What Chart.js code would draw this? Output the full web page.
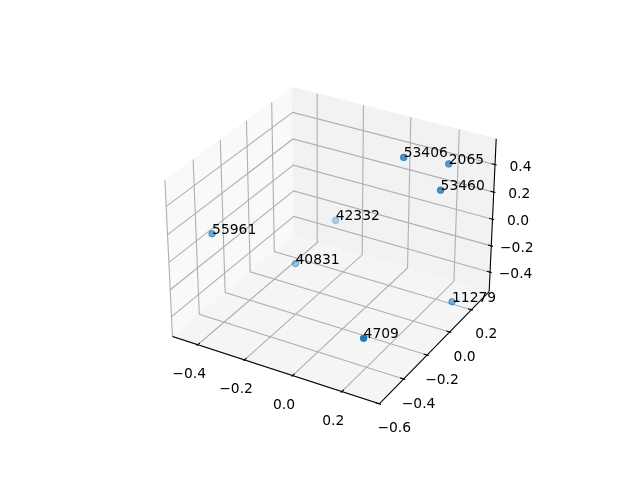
<!DOCTYPE html>
<html>
<head>
<meta charset="utf-8">
<style>
  html, body { margin: 0; padding: 0; background: #fff; }
  #wrap { width: 640px; height: 480px; }
</style>
<script src="https://cdn.jsdelivr.net/npm/chart.js@4"></script>
</head>
<body>
<div id="wrap"><canvas id="chart" width="640" height="480"></canvas></div>
<script>
const pointLabels = ['4709', '42332', '53406', '2065', '53460', '55961', '40831', '11279'];
const xValues = [0.271, -0.310, 0.109, 0.225, 0.260, -0.500, -0.323, 0.280];
const yValues = [-0.571, 0.351, 0.079, 0.225, 0.079, -0.299, 0.033, 0.173];
const zValues = [-0.147, -0.320, 0.546, 0.450, 0.384, -0.020, -0.415, -0.503];

const xTicks = [-0.4, -0.2, 0.0, 0.2];
const yTicks = [-0.6, -0.4, -0.2, 0.0, 0.2];
const zTicks = [-0.4, -0.2, 0.0, 0.2, 0.4];

const xLim = [-0.492, 0.332];
const yLim = [-0.58, 0.35];
const zLim = [-0.527, 0.562];

const GRID = '#b0b0b0';
const FONT = '13.89px "DejaVu Sans"';

// same camera as a default mplot3d axes: elev 30, azim -60, dist 10, box 4:4:3
const DIST = 10;
const el = 30 * Math.PI / 180;
const az = -60 * Math.PI / 180;
const aspectNorm = Math.sqrt(4 * 4 + 4 * 4 + 3 * 3);
const boxScale = 1.8294640721620434 / aspectNorm;
const box = [4 * boxScale, 4 * boxScale, 3 * boxScale * 1.01];
const w = [Math.cos(el) * Math.cos(az), Math.cos(el) * Math.sin(az), Math.sin(el)];
const eye = box.map((b, i) => b / 2 + DIST * w[i]);

function cross(a, b) {
    return [a[1] * b[2] - a[2] * b[1], a[2] * b[0] - a[0] * b[2], a[0] * b[1] - a[1] * b[0]];
}
function dot(a, b) {
    return a[0] * b[0] + a[1] * b[1] + a[2] * b[2];
}
const uRaw = cross([0, 0, 1], w);
const uLen = Math.sqrt(dot(uRaw, uRaw));
const u = uRaw.map(c => c / uLen);
const v = cross(w, u);

function toView(x, y, z) {
    const world = [
        (x - xLim[0]) / (xLim[1] - xLim[0]) * box[0],
        (y - yLim[0]) / (yLim[1] - yLim[0]) * box[1],
        (z - zLim[0]) / (zLim[1] - zLim[0]) * box[2]
    ];
    return world.map((c, i) => c - eye[i]);
}

// projected position in canvas pixels, used as values on the two hidden linear scales
function project(x, y, z) {
    const p = toView(x, y, z);
    const depth = -dot(w, p);
    const px = dot(u, p) / depth;
    const py = dot(v, p) / depth;
    const side = 1.012 * 369.6 / 0.185;
    return { x: 334 + px * side, y: 238 - py * side };
}

function depthOf(x, y, z) {
    return dot(w, toView(x, y, z));
}

// the panes reach 1/48 of the range past the limits
function expand(lim) {
    const d = (lim[1] - lim[0]) / 48;
    return [lim[0] - d, lim[1] + d];
}
const xp = expand(xLim);
const yp = expand(yLim);
const zp = expand(zLim);

function line(points, color, width) {
    return {
        data: points.map(p => project(p[0], p[1], p[2])),
        showLine: true,
        borderColor: color,
        borderWidth: width,
        pointRadius: 0,
        fill: false,
        tension: 0
    };
}

const depths = pointLabels.map((_, i) => depthOf(xValues[i], yValues[i], zValues[i]));
const dMin = Math.min(...depths);
const dMax = Math.max(...depths);
const pointColors = depths.map(d => {
    const alpha = 0.3 + 0.7 * (d - dMin) / (dMax - dMin);
    return `rgba(31,119,180,${alpha.toFixed(3)})`;
});

const datasets = [];

// scatter points go first: dataset 0 is painted last
datasets.push({
    data: pointLabels.map((_, i) => project(xValues[i], yValues[i], zValues[i])),
    showLine: false,
    pointRadius: 3.3,
    pointBorderWidth: 1,
    pointBackgroundColor: pointColors,
    pointBorderColor: pointColors
});

// axis lines
datasets.push(line([[xp[0], yp[0], zp[0]], [xp[1], yp[0], zp[0]]], '#000', 1.1));
datasets.push(line([[xp[1], yp[0], zp[0]], [xp[1], yp[1], zp[0]]], '#000', 1.1));
datasets.push(line([[xp[1], yp[1], zp[0]], [xp[1], yp[1], zp[1]]], '#000', 1.1));

// tick marks
const yDelta = (yLim[1] - yLim[0]) / 12;
const xDelta = (xLim[1] - xLim[0]) / 12;
xTicks.forEach(t => {
    datasets.push(line([[t, yp[0] + 0.2 * yDelta, zp[0]], [t, yp[0] - 0.1 * yDelta, zp[0]]], '#000', 1.1));
});
yTicks.forEach(t => {
    datasets.push(line([[xp[1] - 0.2 * xDelta, t, zp[0]], [xp[1] + 0.1 * xDelta, t, zp[0]]], '#000', 1.1));
});
zTicks.forEach(t => {
    datasets.push(line([[xp[1] - 0.2 * xDelta, yp[1], t], [xp[1] + 0.1 * xDelta, yp[1], t]], '#000', 1.1));
});

// grid lines
xTicks.forEach(t => {
    datasets.push(line([[t, yp[0], zp[0]], [t, yp[1], zp[0]], [t, yp[1], zp[1]]], GRID, 1.1));
});
yTicks.forEach(t => {
    datasets.push(line([[xp[1], t, zp[0]], [xp[0], t, zp[0]], [xp[0], t, zp[1]]], GRID, 1.1));
});
zTicks.forEach(t => {
    datasets.push(line([[xp[0], yp[0], t], [xp[0], yp[1], t], [xp[1], yp[1], t]], GRID, 1.1));
});

const panes = [
    { color: '#f9f9f9', corners: [[xp[0], yp[0], zp[0]], [xp[0], yp[1], zp[0]], [xp[0], yp[1], zp[1]], [xp[0], yp[0], zp[1]]] },
    { color: '#f2f2f2', corners: [[xp[0], yp[1], zp[0]], [xp[1], yp[1], zp[0]], [xp[1], yp[1], zp[1]], [xp[0], yp[1], zp[1]]] },
    { color: '#f5f5f5', corners: [[xp[0], yp[0], zp[0]], [xp[1], yp[0], zp[0]], [xp[1], yp[1], zp[0]], [xp[0], yp[1], zp[0]]] }
];

const panePlugin = {
    id: 'panes',
    beforeDatasetsDraw(chart) {
        const ctx = chart.ctx;
        const sx = chart.scales.x;
        const sy = chart.scales.y;
        ctx.save();
        panes.forEach(pane => {
            ctx.beginPath();
            pane.corners.forEach((c, i) => {
                const p = project(c[0], c[1], c[2]);
                const px = sx.getPixelForValue(p.x);
                const py = sy.getPixelForValue(p.y);
                if (i === 0) ctx.moveTo(px, py);
                else ctx.lineTo(px, py);
            });
            ctx.closePath();
            ctx.fillStyle = pane.color;
            ctx.fill();
            ctx.strokeStyle = pane.color;
            ctx.lineWidth = 1;
            ctx.stroke();
        });
        ctx.restore();
    }
};

function tickText(t) {
    return t.toFixed(1).replace('-', '\u2212');
}

const textPlugin = {
    id: 'texts',
    afterDatasetsDraw(chart) {
        const ctx = chart.ctx;
        const sx = chart.scales.x;
        const sy = chart.scales.y;
        ctx.save();
        ctx.font = FONT;
        ctx.fillStyle = '#000';

        ctx.textAlign = 'left';
        ctx.textBaseline = 'alphabetic';
        pointLabels.forEach((label, i) => {
            const p = project(xValues[i], yValues[i], zValues[i]);
            ctx.fillText(label, sx.getPixelForValue(p.x), sy.getPixelForValue(p.y));
        });

        ctx.textAlign = 'center';
        ctx.textBaseline = 'middle';
        function tickLabel(t, p, dx, dy) {
            ctx.fillText(tickText(t), sx.getPixelForValue(p.x) + dx, sy.getPixelForValue(p.y) + dy);
        }
        xTicks.forEach(t => tickLabel(t, project(t, yp[0], zp[0]), -8.5, 29.5));
        yTicks.forEach(t => tickLabel(t, project(xp[1], t, zp[0]), 15, 25));
        zTicks.forEach(t => tickLabel(t, project(xp[1], yp[1], t), 25.5, 2.5));
        ctx.restore();
    }
};

new Chart(document.getElementById('chart').getContext('2d'), {
    type: 'scatter',
    data: { datasets },
    options: {
        responsive: false,
        animation: false,
        layout: { padding: 0 },
        plugins: {
            legend: { display: false },
            tooltip: { enabled: false }
        },
        scales: {
            x: { type: 'linear', min: 0, max: 640, display: false },
            y: { type: 'linear', min: 0, max: 480, reverse: true, display: false }
        }
    },
    plugins: [panePlugin, textPlugin]
});
</script>
</body>
</html>
